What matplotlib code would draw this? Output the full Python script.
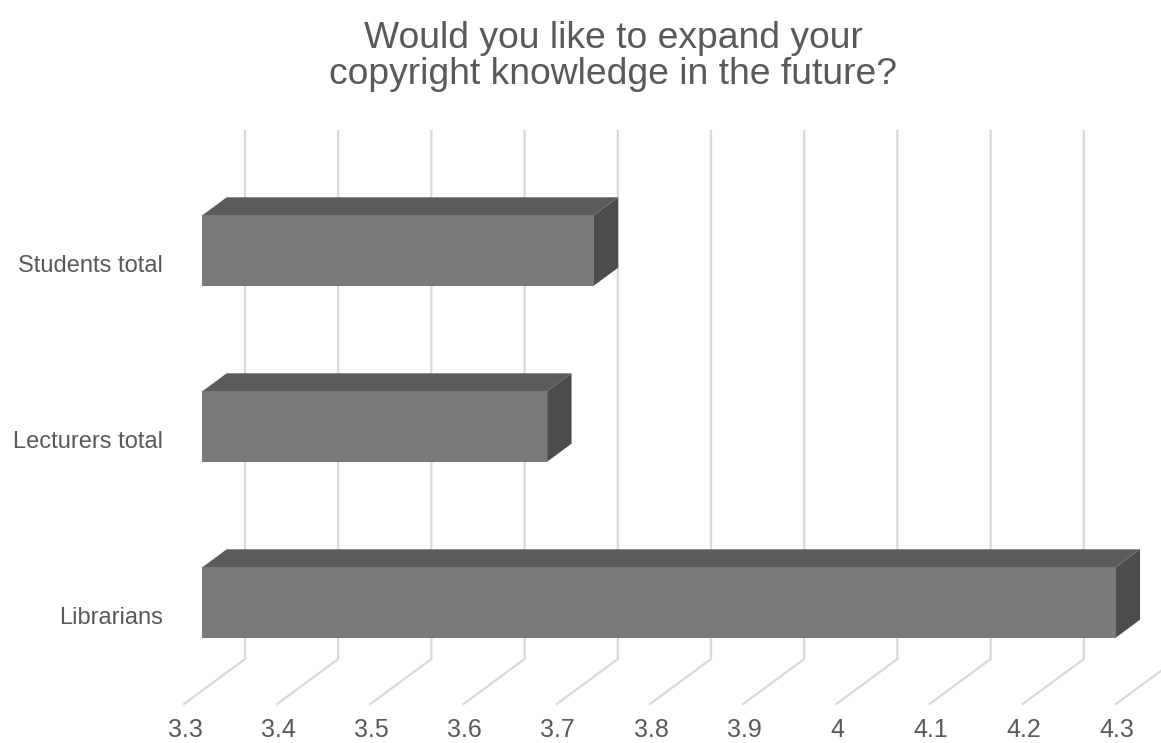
import matplotlib
matplotlib.use("Agg")
import matplotlib.pyplot as plt
from matplotlib.patches import Polygon

plt.rcParams['font.family'] = ['Liberation Sans', 'DejaVu Sans']

title = "Would you like to expand your\ncopyright knowledge in the future?"
categories = ["Librarians", "Lecturers total", "Students total"]
values = [4.28, 3.67, 3.72]
ticks = [3.3, 3.4, 3.5, 3.6, 3.7, 3.8, 3.9, 4.0, 4.1, 4.2, 4.3]
tick_labels = ["3.3", "3.4", "3.5", "3.6", "3.7", "3.8", "3.9", "4", "4.1", "4.2", "4.3"]

W, H = 1161, 743
fig = plt.figure(figsize=(W / 100, H / 100), dpi=100)
ax = fig.add_axes([0, 0, 1, 1])
ax.axis('off')

# pixel layout of the oblique projection
X0_PX, FLOOR_PX = 184, 704      # front floor edge at axis min
PX_PER_UNIT_X = 932             # pixels per 1.0 value
PX_PER_CAT = 176                # pixels per category
DEPTH_PX = (61, 45)             # depth offset (right, up) in pixels
vmin = ticks[0]

ax.set_xlim(vmin - X0_PX / PX_PER_UNIT_X, vmin + (W - X0_PX) / PX_PER_UNIT_X)
ax.set_ylim((FLOOR_PX - H) / PX_PER_CAT - 0.5, FLOOR_PX / PX_PER_CAT - 0.5)

DX = DEPTH_PX[0] / PX_PER_UNIT_X
DY = DEPTH_PX[1] / PX_PER_CAT


def proj(v, y, d):
    return (v + d * DX, y + d * DY)


grid_c = '#d9d9d9'
ytop = len(categories) - 0.5
for t in ticks:
    xs, ys = zip(proj(t, -0.5, 0), proj(t, -0.5, 1), proj(t, ytop, 1))
    ax.plot(xs, ys, color=grid_c, lw=1.6, zorder=1, solid_joinstyle='miter')

front_c, top_c, side_c = '#7a7a7a', '#5c5c5c', '#4c4c4c'
bh = 0.2
d0, d1 = 0.3, 0.7
for i, v in enumerate(values):
    y0, y1 = i - bh, i + bh
    front = [proj(vmin, y0, d0), proj(v, y0, d0), proj(v, y1, d0), proj(vmin, y1, d0)]
    top = [proj(vmin, y1, d0), proj(v, y1, d0), proj(v, y1, d1), proj(vmin, y1, d1)]
    side = [proj(v, y0, d0), proj(v, y0, d1), proj(v, y1, d1), proj(v, y1, d0)]
    ax.add_patch(Polygon(side, closed=True, fc=side_c, ec='none', zorder=3))
    ax.add_patch(Polygon(top, closed=True, fc=top_c, ec='none', zorder=3))
    ax.add_patch(Polygon(front, closed=True, fc=front_c, ec='none', zorder=4))
    ax.annotate(categories[i], xy=proj(vmin, i, 0), xytext=(-21, -2),
                textcoords='offset pixels', ha='right', va='center',
                fontsize=17, color='#595959')

for t, lab in zip(ticks, tick_labels):
    ax.annotate(lab, xy=proj(t, -0.5, 0), xytext=(1, -26),
                textcoords='offset pixels', ha='center', va='center',
                fontsize=18, color='#595959')

fig.text(613 / W, 1 - 56.5 / H, title, ha='center', va='center',
         fontsize=26.8, color='#595959', linespacing=1.05)

fig.savefig('out.png', dpi=100, facecolor='white')
